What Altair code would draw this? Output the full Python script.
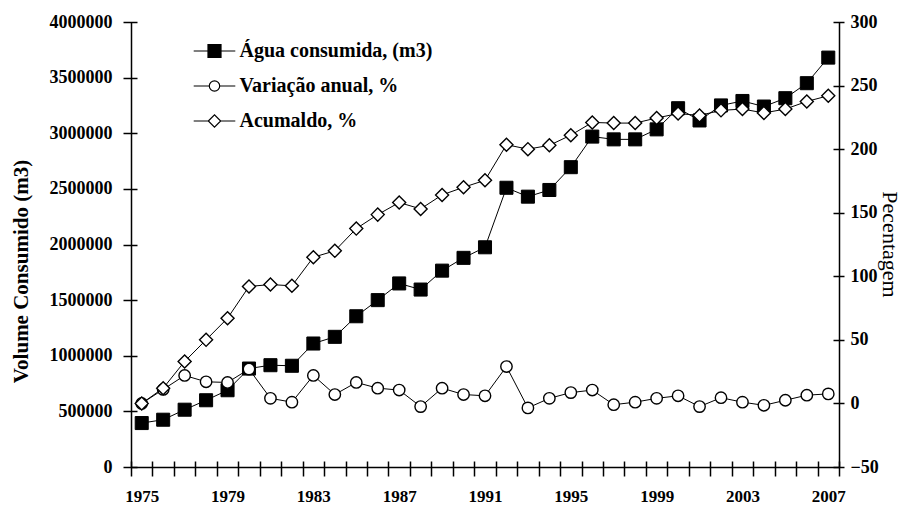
import altair as alt
import pandas as pd

years = list(range(1975, 2008))
agua = [395000, 425000, 515000, 600000, 690000, 885000, 915000, 910000, 1110000, 1170000,
        1355000, 1500000, 1650000, 1595000, 1765000, 1880000, 1975000, 2510000, 2430000, 2490000,
        2695000, 2970000, 2945000, 2945000, 3035000, 3225000, 3115000, 3250000, 3290000, 3240000,
        3315000, 3450000, 3680000]
variacao = [0, 11, 22, 17, 16.5, 27, 4, 1, 22, 7,
            16.5, 12, 10.5, -2.5, 12, 7, 6, 29, -3.5, 4,
            8.5, 10.5, -1, 1, 4, 6, -2.5, 4.5, 1, -1.5,
            2.5, 6.5, 7.5]
acumulado = [0, 12, 33, 50, 67, 92, 93.5, 92.5, 115, 120,
             137.5, 148.5, 158, 153, 164, 170, 175.5, 203.5, 200, 203,
             211, 221, 220.5, 220.5, 224.5, 228, 226.5, 230.5, 231.5, 228.5,
             231.5, 237.5, 242]
series_names = ["Água consumida, (m3)", "Variação anual, %", "Acumaldo, %"]
x_label_years = [1975, 1979, 1983, 1987, 1991, 1995, 1999, 2003, 2007]
left_ticks = [0, 500000, 1000000, 1500000, 2000000, 2500000, 3000000, 3500000, 4000000]
right_ticks = [-50, 0, 50, 100, 150, 200, 250, 300]

df = pd.DataFrame({"ano": years, "agua": agua, "var": variacao, "acum": acumulado})
leg_df = pd.DataFrame({"serie": series_names})

FONT = "Liberation Serif"

xscale = alt.Scale(domain=[1974.5, 2007.5], nice=False, zero=False)
yA = alt.Scale(domain=[0, 4000000], nice=False, zero=False)
yB = alt.Scale(domain=[-50, 300], nice=False, zero=False)

x_main_axis = alt.Axis(orient="bottom", values=x_label_years, format="d", ticks=False, tickSize=0,
                       labelPadding=21, domain=True, domainColor="black", domainWidth=1.5, grid=False,
                       title=None, labelFont=FONT, labelFontSize=17, labelFontWeight="bold",
                       labelColor="black")
x_tick_axis = alt.Axis(orient="bottom", values=[y + 0.5 for y in range(1974, 2008)], labels=False,
                       domain=False, ticks=True, tickSize=15, tickWidth=1.5, tickColor="black",
                       offset=-6, grid=False, title=None)

left_axis = alt.Axis(orient="left", values=left_ticks, format="d", ticks=False, tickSize=0, labelPadding=19,
                     domain=True, domainColor="black", domainWidth=1.5, grid=False,
                     labelFont=FONT, labelFontSize=18, labelFontWeight="bold", labelColor="black",
                     title="Volume Consumido (m3)", titleFont=FONT, titleFontSize=21,
                     titleFontWeight="bold", titleColor="black", titleAngle=270,
                     titleX=-110, titleY=249, titleAlign="center", titleBaseline="middle")
left_tick_axis = alt.Axis(orient="left", values=left_ticks, labels=False, domain=False, ticks=True,
                          tickSize=14, tickWidth=1.5, tickColor="black", offset=-6, grid=False, title=None)
right_axis = alt.Axis(orient="right", values=right_ticks, format="d", ticks=False, tickSize=0, labelPadding=11,
                      domain=True, domainColor="black", domainWidth=1.5, grid=False,
                      labelFont=FONT, labelFontSize=18, labelFontWeight="bold", labelColor="black",
                      title="Pecentagem", titleFont=FONT, titleFontSize=22,
                      titleFontWeight="normal", titleColor="black", titleAngle=90,
                      titleX=50, titleY=222, titleAlign="center", titleBaseline="middle")
right_tick_axis = alt.Axis(orient="right", values=right_ticks, labels=False, domain=False, ticks=True,
                           tickSize=11, tickWidth=1.5, tickColor="black", offset=-6, grid=False, title=None)

base = alt.Chart(df)

l_agua = base.mark_line(color="black", strokeWidth=1,
                        point=alt.OverlayMarkDef(shape="square", filled=True, fill="black",
                                                 stroke="black", strokeWidth=1, size=170)).encode(
    x=alt.X("ano:Q", scale=xscale, axis=x_main_axis),
    y=alt.Y("agua:Q", scale=yA, axis=left_axis),
)
l_var = base.mark_line(color="black", strokeWidth=1,
                       point=alt.OverlayMarkDef(shape="circle", filled=True, fill="white",
                                                stroke="black", strokeWidth=1.4, size=130)).encode(
    x=alt.X("ano:Q", scale=xscale, axis=x_tick_axis),
    y=alt.Y("var:Q", scale=yB, axis=right_axis),
)
l_acum = base.mark_line(color="black", strokeWidth=1,
                        point=alt.OverlayMarkDef(shape="diamond", filled=True, fill="white",
                                                 stroke="black", strokeWidth=1.4, size=170)).encode(
    x=alt.X("ano:Q", scale=xscale, axis=None),
    y=alt.Y("acum:Q", scale=yB, axis=None),
)
l_lt = base.mark_line(opacity=0).encode(
    x=alt.X("ano:Q", scale=xscale, axis=None),
    y=alt.Y("agua:Q", scale=yA, axis=left_tick_axis),
)
l_rt = base.mark_line(opacity=0).encode(
    x=alt.X("ano:Q", scale=xscale, axis=None),
    y=alt.Y("var:Q", scale=yB, axis=right_tick_axis),
)

paths = [
    "M-3.2,0H-1M1,0H3.2M-1,-1H1V1H-1Z",
    "M-3.2,0H-0.8M0.8,0H3.2M-0.8,0A0.8,0.8,0,1,1,0.8,0A0.8,0.8,0,1,1,-0.8,0Z",
    "M-3.2,0H-0.95M0.95,0H3.2M-0.95,0L0,-0.95L0.95,0L0,0.95Z",
]
legend = alt.Legend(orient="none", legendX=73.5, legendY=19, title=None,
                    labelFont=FONT, labelFontSize=20, labelFontWeight="bold", labelColor="black",
                    symbolSize=169, symbolStrokeColor="black", symbolStrokeWidth=1.2,
                    labelOffset=15, rowPadding=15, padding=0, labelLimit=400)
l_leg = alt.Chart(leg_df).transform_filter("false").mark_point(
    filled=True, strokeWidth=1.2, size=169, opacity=1).encode(
    shape=alt.Shape("serie:N", scale=alt.Scale(domain=series_names, range=paths), legend=legend),
    fill=alt.Fill("serie:N", scale=alt.Scale(domain=series_names, range=["black", "white", "white"]),
                  legend=legend),
    stroke=alt.Stroke("serie:N", scale=alt.Scale(domain=series_names, range=["black", "black", "black"]),
                      legend=legend),
)

chart = alt.layer(l_agua, l_var, l_acum, l_lt, l_rt, l_leg).resolve_scale(
    y="independent").resolve_axis(x="independent", y="independent").properties(
    width=708, height=445,
    autosize=alt.AutoSizeParams(type="none"),
    padding={"left": 123, "top": 14, "right": 65, "bottom": 38},
    background="white",
).configure_view(stroke=None).configure_legend(
    labelFont=FONT, labelFontSize=20, labelFontWeight="bold", labelColor="black"
)

chart.save("out.html", embed_options={"renderer": "svg", "actions": False})
